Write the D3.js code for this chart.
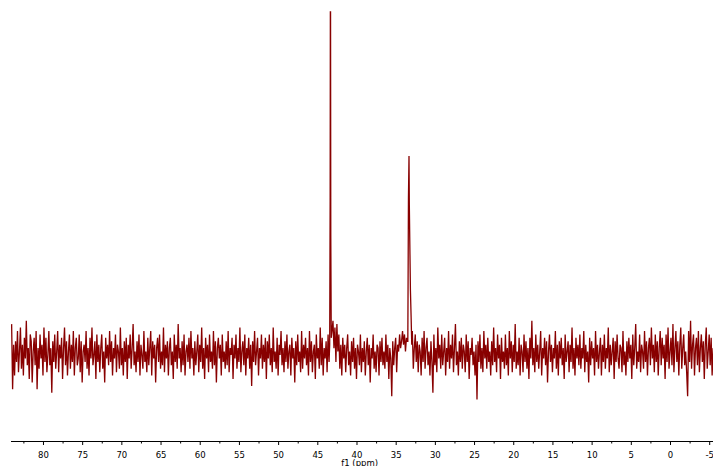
<!DOCTYPE html>
<html>
<head>
<meta charset="utf-8">
<script src="https://cdn.jsdelivr.net/npm/d3@7"></script>
<style>
  html, body { margin: 0; padding: 0; background: #fff; overflow: hidden; }
  svg { display: block; }
</style>
</head>
<body>
<svg id="chart" width="713" height="466"></svg>
<script>
// Spectrum sampling range (ppm) for the baseline noise, left to right
const noiseStartPpm = 84.0;
const noiseEndPpm = -5.5;

// Baseline noise intensities (relative units)
const noiseValues = [
  9,-10,3,-6,4,-2,7,-5,1,8,-4,3,-6,5,-1,10,-3,2,-7,6,
  4,-8,1,5,-3,7,-10,2,-4,6,-1,3,-6,8,-2,5,-5,0,7,-3,
  2,-11,4,-2,6,-4,1,7,-5,3,-1,5,-7,2,8,-3,4,-6,1,6,
  -4,3,-2,7,-6,2,5,-3,-1,6,-5,4,-8,1,3,-2,7,-4,2,-6,
  5,-1,8,-3,0,4,-7,6,-2,3,-5,2,6,-4,1,-8,5,-1,3,-3,
  7,-2,4,-6,2,-1,6,-5,3,1,-4,8,-3,2,-6,4,-2,5,-7,3,
  -1,6,-4,2,9,-3,1,-5,4,-2,6,-6,3,0,-4,7,-2,1,-5,5,
  -3,2,7,-6,4,-1,3,-8,2,5,-2,6,-4,1,-3,8,-5,3,-1,4,
  -6,2,5,-3,1,-7,6,-2,3,-4,9,-1,2,-5,4,-3,6,-6,1,3,
  -2,5,-4,7,-1,2,-6,4,-3,1,6,-5,3,-2,8,-4,2,-7,5,-1,
  3,-5,6,-2,1,-4,7,-3,4,-8,2,5,-1,3,-6,6,-2,1,-4,4,
  -3,7,-5,2,0,5,-7,3,-1,6,-4,2,-2,8,-5,1,4,-3,6,-6,
  2,-1,5,-4,3,-9,4,-2,7,-3,1,5,-6,2,-1,6,-4,3,-2,5,
  -7,4,-1,6,-3,2,-5,8,-2,1,-4,5,-6,3,0,7,-3,2,-5,4,
  -2,6,-4,1,3,-6,5,-1,2,-8,4,-3,6,-2,1,-5,7,-4,3,-1,
  5,-3,2,-6,7,-2,4,-5,1,3,-7,6,-1,2,-4,8,-3,5,-6,2,
  -1,4,-5,6,-2,3,5,7,10,2,8,-2,9,1,6,-4,3,-6,5,-1,
  3,-5,2,6,-3,1,-6,4,-2,5,-4,2,-7,3,1,-3,6,-5,2,-2,
  4,-6,1,5,-3,3,-8,2,-1,6,-4,1,-5,3,2,-6,4,-2,5,-3,
  1,-4,6,-2,3,-7,2,-1,-12,4,-3,2,5,-5,3,1,6,2,4,7,
  3,6,1,5,4,8,-3,5,-1,7,-4,2,6,-2,4,-5,3,1,-6,5,
  -2,7,-4,2,5,-3,1,-6,4,-2,-11,6,-3,2,-5,8,-1,3,-4,6,
  -3,1,5,-6,2,-2,7,-4,3,-1,6,-5,2,9,-3,1,-6,4,-2,5,
  -4,3,1,-5,6,-2,4,-7,2,0,5,-3,1,-6,3,-13,4,-2,6,-4,
  2,-5,7,-1,3,-4,5,-2,1,-6,4,-3,8,-2,2,-5,6,-1,3,-7,
  5,-2,1,-4,6,-3,2,-6,7,-1,4,-5,3,-2,9,-4,1,-3,5,-6,
  3,1,-5,6,-2,4,-4,2,-7,5,-1,10,-3,2,-5,6,-2,3,-4,1,
  7,-6,2,-1,5,-3,4,-8,1,6,-2,3,-5,2,-1,7,-4,3,-6,4,
  -1,5,-3,2,-7,6,-2,1,4,-5,3,-2,8,-4,2,-6,5,-1,3,-3,
  6,-4,2,-1,7,-5,3,-2,1,-8,5,-3,4,-1,2,-6,7,-2,3,-4,
  1,5,-6,3,-2,6,-4,2,-1,8,-5,3,-3,1,5,-7,4,-2,6,-1,
  -4,3,2,-5,7,-3,1,-6,4,-2,5,-1,3,-7,6,-3,2,9,-4,1,
  -2,6,-5,3,1,-4,7,-2,4,-6,2,5,-3,8,-1,3,-5,6,-2,4,
  -6,2,7,-3,5,-1,3,-7,6,-2,8,-4,1,5,-3,9,-5,2,7,-2,
  4,-6,3,8,-4,2,6,-3,1,-5,-12,7,-2,10,-4,3,6,-6,2,5,
  -3,7,-5,2,6,-2,4,-7,3,8,-4,1,6,-3,5,-6,2
];

// Resonance peaks (ppm, intensity)
const peakPpm = [43.42, 43.36, 43.335, 43.31, 43.28, 43.22, 33.45, 33.37, 33.30, 33.26, 33.12, 33.03, 32.95];
const peakInt = [3, 45, 100, 100, 35, 5, 4, 46, 58, 44, 19, 11, 3];

// Axis ticks
const majorTicks = [80, 75, 70, 65, 60, 55, 50, 45, 40, 35, 30, 25, 20, 15, 10, 5, 0, -5];
const minorTicks = [82.5, 77.5, 72.5, 67.5, 62.5, 57.5, 52.5, 47.5, 42.5, 37.5, 32.5, 27.5, 22.5, 17.5, 12.5, 7.5, 2.5, -2.5];
const axisTitle = "f1 (ppm)";

const svg = d3.select("#chart");
const x = d3.scaleLinear().domain([84.08, -5.486]).range([11, 713]);
const y = d3.scaleLinear().domain([0, 100]).range([355, 12]);

// Build the spectrum: noise grid plus peaks (noise removed inside peak windows)
const n = noiseValues.length;
const step = (noiseEndPpm - noiseStartPpm) / (n - 1);
const windows = [[d3.max(peakPpm.slice(0, 6)), d3.min(peakPpm.slice(0, 6))],
                 [d3.max(peakPpm.slice(6)), d3.min(peakPpm.slice(6))]];
const pts = [];
noiseValues.forEach((v, i) => {
  const p = noiseStartPpm + i * step;
  const inside = windows.some(w => p <= w[0] && p >= w[1]);
  if (!inside) pts.push([p, v]);
});
peakPpm.forEach((p, i) => pts.push([p, peakInt[i]]));
pts.sort((a, b) => b[0] - a[0]);

const line = d3.line().x(d => x(d[0])).y(d => y(d[1]));
svg.append("path")
  .datum(pts)
  .attr("d", line)
  .attr("fill", "none")
  .attr("stroke", "#880000")
  .attr("stroke-width", 1.3)
  .attr("stroke-linejoin", "miter");

// Axis
const axisY = 441.5;
const minorAxis = d3.axisBottom(x).tickValues(minorTicks).tickSize(2).tickFormat("");
const majorAxis = d3.axisBottom(x).tickValues(majorTicks).tickSize(3.5).tickPadding(7)
  .tickFormat(d => d);

const gMinor = svg.append("g").attr("transform", `translate(0,${axisY})`).call(minorAxis);
gMinor.select(".domain").remove();
const gMajor = svg.append("g").attr("transform", `translate(0,${axisY})`).call(majorAxis);
gMajor.select(".domain").attr("d", `M11,0H713`).attr("stroke", "#000");
svg.selectAll(".tick line").attr("stroke", "#000");
gMajor.selectAll("text")
  .attr("font-family", "DejaVu Sans, Verdana, sans-serif")
  .attr("font-size", 8.5)
  .attr("fill", "#000");

svg.append("text")
  .attr("x", x(39.6))
  .attr("y", 466)
  .attr("text-anchor", "middle")
  .attr("font-family", "DejaVu Sans, Verdana, sans-serif")
  .attr("font-size", 8.5)
  .attr("fill", "#000")
  .text(axisTitle);
</script>
</body>
</html>
